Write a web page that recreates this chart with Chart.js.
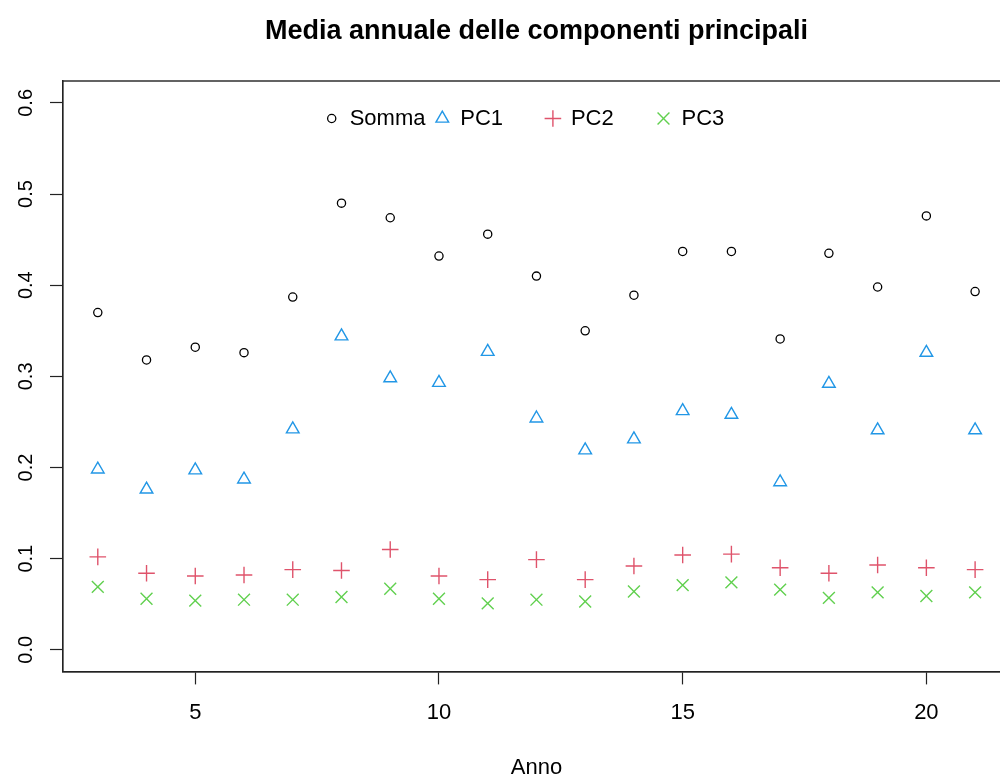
<!DOCTYPE html>
<html>
<head>
<meta charset="utf-8">
<script src="https://cdn.jsdelivr.net/npm/chart.js@4/dist/chart.umd.min.js"></script>
<style>
  html, body { margin: 0; padding: 0; background: #fff; overflow: hidden; }
  #wrap { width: 1020px; height: 776px; position: relative; }
</style>
</head>
<body>
<div id="wrap"><canvas id="c" width="1020" height="776"></canvas></div>
<script>
// ---- data ----
const anni   = [3, 4, 5, 6, 7, 8, 9, 10, 11, 12, 13, 14, 15, 16, 17, 18, 19, 20, 21];
const somma  = [0.370, 0.318, 0.332, 0.326, 0.387, 0.490, 0.474, 0.432, 0.456, 0.410, 0.350, 0.389, 0.437, 0.437, 0.341, 0.435, 0.398, 0.476, 0.393];
const pc1    = [0.198, 0.176, 0.197, 0.187, 0.242, 0.344, 0.298, 0.293, 0.327, 0.254, 0.219, 0.231, 0.262, 0.258, 0.184, 0.292, 0.241, 0.326, 0.241];
const pc2    = [0.102, 0.084, 0.081, 0.082, 0.088, 0.087, 0.110, 0.081, 0.077, 0.099, 0.077, 0.092, 0.104, 0.105, 0.090, 0.084, 0.093, 0.090, 0.088];
const pc3    = [0.069, 0.056, 0.054, 0.055, 0.055, 0.058, 0.067, 0.056, 0.051, 0.055, 0.053, 0.064, 0.071, 0.074, 0.066, 0.057, 0.063, 0.059, 0.063];
const seriesNames = ['Somma', 'PC1', 'PC2', 'PC3'];
const xTicks = [5, 10, 15, 20];
const yTicks = [0.0, 0.1, 0.2, 0.3, 0.4, 0.5, 0.6];
const titolo = 'Media annuale delle componenti principali';
const xTitolo = 'Anno';

const FONT = "'Liberation Sans', Arial, sans-serif";
const pts = arr => anni.map((a, i) => ({ x: a, y: arr[i] }));

const styles = [
  { color: '#000000', pointStyle: 'circle',   radius: 4.1, bw: 1.3 },
  { color: '#2297E6', pointStyle: 'triangle', radius: 7.3, bw: 1.4 },
  { color: '#DF536B', pointStyle: 'cross',    radius: 8.3, bw: 1.4 },
  { color: '#61D04F', pointStyle: 'crossRot', radius: 8.4, bw: 1.4 }
];
const values = [somma, pc1, pc2, pc3];

const datasets = values.map((v, i) => ({
  label: seriesNames[i],
  data: pts(v),
  showLine: false,
  pointStyle: styles[i].pointStyle,
  pointRadius: styles[i].radius,
  pointHoverRadius: styles[i].radius,
  pointBorderWidth: styles[i].bw,
  pointBorderColor: styles[i].color,
  pointBackgroundColor: 'rgba(0,0,0,0)',
  borderColor: styles[i].color,
  backgroundColor: 'rgba(0,0,0,0)'
}));

const boxPlugin = {
  id: 'boxPlugin',
  afterDraw(chart) {
    const { ctx, chartArea: a } = chart;
    ctx.save();
    ctx.strokeStyle = '#222';
    ctx.lineWidth = 1.4;
    ctx.strokeRect(a.left, a.top, a.right - a.left, a.bottom - a.top);
    ctx.restore();
  }
};

const legendPlugin = {
  id: 'rLegend',
  afterDraw(chart) {
    const ctx = chart.ctx;
    const x0 = 331.7, step = 110.6, yL = 118.5, gap = 18;
    ctx.save();
    chart.data.datasets.forEach((ds, i) => {
      const x = x0 + i * step;
      ctx.strokeStyle = ds.pointBorderColor;
      ctx.fillStyle = 'rgba(0,0,0,0)';
      ctx.lineWidth = ds.pointBorderWidth;
      Chart.helpers.drawPoint(ctx, {
        pointStyle: ds.pointStyle, radius: ds.pointRadius,
        borderWidth: ds.pointBorderWidth, rotation: 0
      }, x, yL);
      ctx.fillStyle = '#000';
      ctx.font = '22px ' + FONT;
      ctx.textAlign = 'left';
      ctx.textBaseline = 'middle';
      ctx.fillText(ds.label, x + gap, yL);
    });
    ctx.restore();
  }
};

new Chart(document.getElementById('c'), {
  type: 'scatter',
  data: { datasets },
  options: {
    responsive: false,
    animation: false,
    events: [],
    layout: { padding: { left: 0, right: 8.6, top: 0, bottom: 0 } },
    plugins: {
      legend: { display: false },
      tooltip: { enabled: false },
      title: {
        display: true,
        text: titolo,
        fullSize: false,
        color: '#000',
        font: { family: FONT, size: 27, weight: 'bold' },
        padding: { top: 15.5, bottom: 33.1 }
      }
    },
    scales: {
      x: {
        type: 'linear',
        min: 2.28, max: 21.72,
        afterBuildTicks: s => { s.ticks = xTicks.map(v => ({ value: v })); },
        afterFit: s => { s.height = 104.3; },
        grid: { drawOnChartArea: false, drawTicks: true, tickLength: 12.7, tickColor: '#222', tickWidth: 1.2 },
        border: { display: true, color: '#222', width: 1.4 },
        ticks: { color: '#000', font: { family: FONT, size: 22 }, padding: 15.4, maxRotation: 0, autoSkip: false },
        title: { display: true, text: xTitolo, color: '#000', font: { family: FONT, size: 22 }, padding: { top: 0, bottom: -5 } }
      },
      y: {
        type: 'linear',
        min: -0.024, max: 0.624,
        afterBuildTicks: s => { s.ticks = yTicks.map(v => ({ value: v })); },
        afterFit: s => { s.width = 62.7; },
        grid: { drawOnChartArea: false, drawTicks: true, tickLength: 12.7, tickColor: '#222', tickWidth: 1.2 },
        border: { display: true, color: '#222', width: 1.4 },
        ticks: {
          color: '#000', font: { family: FONT, size: 20 }, padding: 9.5,
          minRotation: 90, maxRotation: 90, crossAlign: 'center', autoSkip: false,
          callback: v => v.toFixed(1)
        }
      }
    }
  },
  plugins: [boxPlugin, legendPlugin]
});
</script>
</body>
</html>
